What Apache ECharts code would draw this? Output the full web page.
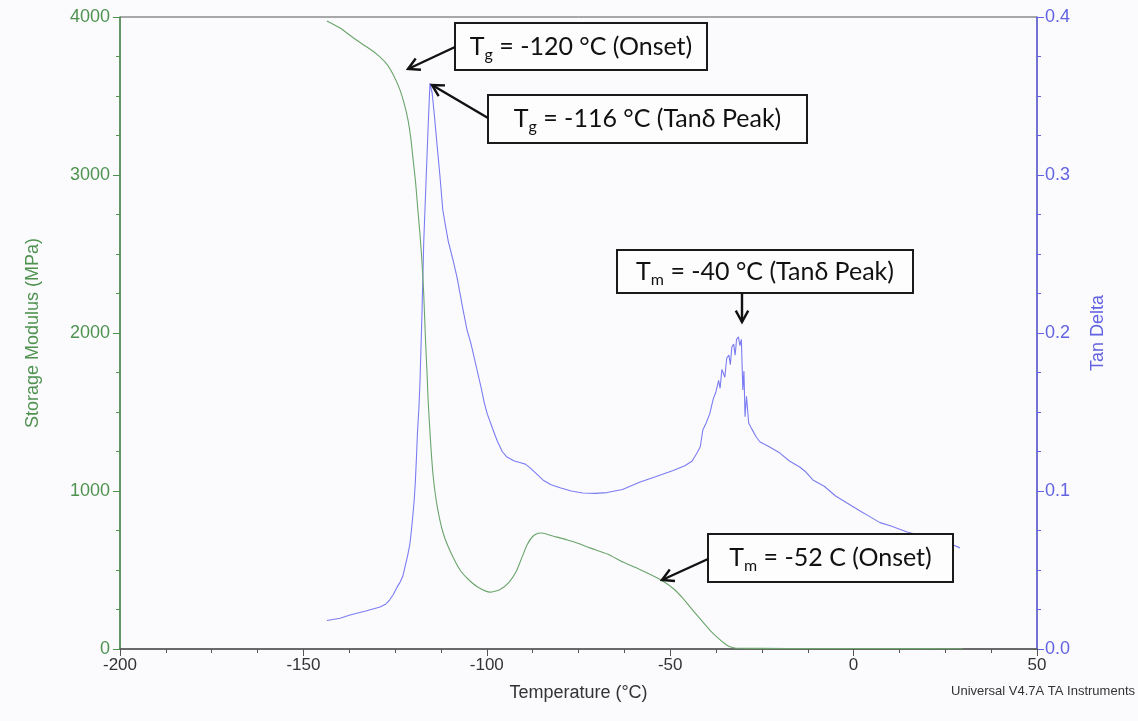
<!DOCTYPE html>
<html>
<head>
<meta charset="utf-8">
<script src="https://cdn.jsdelivr.net/npm/echarts@6/dist/echarts.min.js"></script>
<style>
  html, body { margin: 0; padding: 0; background: #fbfbfe; }
  #chart { width: 1138px; height: 721px; }
</style>
</head>
<body>
<div id="chart"></div>
<script>
// ---- Data ----
const xTicks = [-200, -150, -100, -50, 0, 50];
const modulusTicks = [0, 1000, 2000, 3000, 4000];
const tanTicks = [0.0, 0.1, 0.2, 0.3, 0.4];

const modTemp = [-143.6,-140,-136.5,-132.7,-130,-127.2,-125.3,-123.7,-122.5,-121.5,-120.7,-120.1,-119.4,-118.8,-118.2,-117.7,-117.2,-116.7,-116.3,-116.0,-115.3,-114.6,-113.5,-111.9,-110,-107.3,-105,-102.5,-99.1,-96.5,-94,-92,-90.5,-89,-87.5,-86,-85,-82,-78,-75,-71.9,-67,-62.9,-58,-52.5,-49,-46.5,-44.6,-42,-39.2,-37,-35,-33.5,-32,-25,-10,10,29.8];
const modValue = [3975,3930,3870,3810,3765,3700,3625,3540,3450,3350,3230,3100,2950,2780,2620,2460,2250,1950,1750,1576,1300,1089,900,734,620,500,440,393,360,375,420,490,575,660,712,732,734,715,690,668,640,600,550,500,437,380,320,266,195,120,70,32,12,5,4,3,3,2];

const tanTemp = [-143.6,-140,-137.3,-133,-129.1,-127.5,-126.5,-125.5,-124.5,-123.6,-122.9,-122.3,-121.6,-121,-120.6,-120.2,-119.8,-119.5,-119.2,-118.9,-118.5,-118.2,-117.7,-117.2,-116.5,-116,-115.5,-114.9,-114.3,-113.6,-112.8,-112.0,-111.2,-110.5,-109.3,-108.1,-106.5,-105.4,-104.4,-103.5,-102.5,-101.5,-100.7,-99.9,-98.5,-97.2,-95.8,-94.5,-92.5,-91,-89.5,-88.2,-86.5,-84.7,-82.5,-80,-77,-73.8,-70.5,-67.2,-63,-58.2,-54,-49.2,-46,-44,-42.7,-41.8,-41.1,-40.2,-39.2,-38.3,-37.5,-36.8,-36.4,-35.9,-35.6,-35.1,-34.6,-34.0,-33.6,-33.2,-32.7,-32.3,-31.9,-31.4,-31.0,-30.6,-30.2,-29.9,-29.6,-29.2,-28.6,-27.7,-26.5,-25.5,-23,-20.1,-17.5,-14.6,-13,-11.1,-8,-5,-1.8,2,5,7.2,10,14.6,18,21.7,25,27,29];
const tanValue = [0.018,0.0195,0.0215,0.024,0.0266,0.0285,0.031,0.0345,0.039,0.0425,0.046,0.052,0.059,0.066,0.074,0.0835,0.094,0.105,0.12,0.137,0.153,0.17,0.21,0.257,0.30,0.33,0.358,0.352,0.338,0.32,0.30,0.278,0.267,0.258,0.247,0.235,0.215,0.202,0.194,0.185,0.175,0.165,0.156,0.149,0.14,0.132,0.125,0.1215,0.119,0.118,0.117,0.1146,0.111,0.107,0.104,0.102,0.100,0.0987,0.0985,0.099,0.101,0.1057,0.109,0.113,0.116,0.119,0.124,0.128,0.1386,0.143,0.149,0.158,0.163,0.170,0.165,0.177,0.178,0.172,0.184,0.186,0.180,0.191,0.193,0.186,0.196,0.1975,0.192,0.196,0.164,0.176,0.147,0.160,0.143,0.139,0.134,0.131,0.128,0.124,0.119,0.115,0.112,0.107,0.103,0.097,0.0924,0.087,0.083,0.080,0.078,0.074,0.072,0.070,0.068,0.066,0.064];

const annotations = [
  { sub: 'g', text: ' = -120 °C (Onset)' },
  { sub: 'g', text: ' = -116 °C (Tanδ Peak)' },
  { sub: 'm', text: ' = -40 °C (Tanδ Peak)' },
  { sub: 'm', text: ' = -52 C (Onset)' }
];

// ---- Build ----
const modData = modTemp.map((t, i) => [t, modValue[i]]);
const tanData = tanTemp.map((t, i) => [t, tanValue[i]]);

const GREEN_TXT = '#4f9250';
const GREEN_LINE = '#6aa56a';
const BLUE_TXT = '#6262e2';
const BLUE_LINE = '#7c7cf2';

function arrow(x1, y1, x2, y2) {
  const a = Math.atan2(y2 - y1, x2 - x1);
  const L = 13, w = 0.5;
  const p1 = [x2 - L * Math.cos(a - w), y2 - L * Math.sin(a - w)];
  const p2 = [x2 - L * Math.cos(a + w), y2 - L * Math.sin(a + w)];
  return [
    { type: 'line', shape: { x1, y1, x2, y2 }, style: { stroke: '#111', lineWidth: 2.4 }, z: 100 },
    { type: 'polyline', shape: { points: [p1, [x2, y2], p2] }, style: { stroke: '#111', lineWidth: 2.4, fill: null }, z: 100 }
  ];
}

function box(x, y, w, h, ann) {
  return [
    { type: 'rect', shape: { x, y, width: w, height: h }, style: { fill: '#fdfdfe', stroke: '#1a1a1a', lineWidth: 2 }, z: 100 },
    {
      type: 'text', x: x + w / 2, y: y + h / 2, z: 101,
      style: {
        text: '{t|T}{s|' + ann.sub + '}{t|' + ann.text + '}',
        align: 'center', verticalAlign: 'middle',
        rich: {
          t: { fontSize: 25, fontFamily: 'Lato', fill: '#111', lineHeight: 32, verticalAlign: 'middle' },
          s: { fontSize: 16, fontFamily: 'Lato', fill: '#111', lineHeight: 32, verticalAlign: 'bottom', padding: [12, 0, 0, 0] }
        }
      }
    }
  ];
}

const graphics = [].concat(
  box(455, 23, 252, 47, annotations[0]), arrow(455, 47, 408, 69),
  box(488, 95, 319, 48, annotations[1]), arrow(488, 118, 432, 85),
  box(617, 250, 296, 43, annotations[2]), arrow(742, 293, 742, 322),
  box(708, 534, 245, 48, annotations[3]), arrow(708, 559, 662, 580),
  [{ type: 'text', right: 3, top: 685, style: { text: 'Universal V4.7A TA Instruments', font: '13px "Liberation Sans", Arial', fill: '#333' } }]
);

const chart = echarts.init(document.getElementById('chart'), null, { renderer: 'canvas' });
chart.setOption({
  backgroundColor: '#fbfbfe',
  animation: false,
  grid: { left: 120, right: 101, top: 17, bottom: 72, show: true, borderColor: '#555', borderWidth: 1, backgroundColor: 'transparent' },
  xAxis: {
    type: 'value', min: xTicks[0], max: xTicks[xTicks.length - 1], interval: 50,
    name: 'Temperature (°C)', nameLocation: 'middle', nameGap: 35,
    nameTextStyle: { fontSize: 18, color: '#333', fontFamily: 'Liberation Sans' },
    axisLine: { show: true, onZero: false, lineStyle: { color: '#555', width: 1.5 } },
    axisTick: { show: true, length: 7, lineStyle: { color: '#555' } },
    minorTick: { show: true, splitNumber: 4, length: 4, lineStyle: { color: '#555' } },
    splitLine: { show: false },
    axisLabel: { fontSize: 17, color: '#333', margin: 8, fontFamily: 'Liberation Sans', formatter: v => String(v) }
  },
  yAxis: [
    {
      type: 'value', min: modulusTicks[0], max: modulusTicks[modulusTicks.length - 1], interval: 1000, position: 'left',
      name: 'Storage Modulus (MPa)', nameLocation: 'middle', nameGap: 78,
      nameTextStyle: { fontSize: 18, color: GREEN_TXT, fontFamily: 'Liberation Sans' },
      axisLine: { show: true, onZero: false, lineStyle: { color: GREEN_TXT, width: 1.5 } },
      axisTick: { show: true, length: 7, lineStyle: { color: GREEN_TXT } },
      minorTick: { show: true, splitNumber: 4, length: 4, lineStyle: { color: GREEN_TXT } },
      splitLine: { show: false },
      axisLabel: { fontSize: 18, color: GREEN_TXT, margin: 10, fontFamily: 'Liberation Sans', formatter: v => String(v) }
    },
    {
      type: 'value', min: tanTicks[0], max: tanTicks[tanTicks.length - 1], interval: 0.1, position: 'right',
      name: 'Tan Delta', nameLocation: 'middle', nameGap: 52,
      nameTextStyle: { fontSize: 18, color: BLUE_TXT, fontFamily: 'Liberation Sans' },
      axisLine: { show: true, onZero: false, lineStyle: { color: BLUE_TXT, width: 1.5 } },
      axisTick: { show: true, length: 7, lineStyle: { color: BLUE_TXT } },
      minorTick: { show: true, splitNumber: 4, length: 4, lineStyle: { color: BLUE_TXT } },
      splitLine: { show: false },
      axisLabel: { fontSize: 18, color: BLUE_TXT, margin: 8, fontFamily: 'Liberation Sans', formatter: v => v.toFixed(1) }
    }
  ],
  series: [
    {
      name: 'Storage Modulus', type: 'line', yAxisIndex: 0, data: modData,
      showSymbol: false, smooth: 0.2, lineStyle: { color: GREEN_LINE, width: 1.1 }, z: 3
    },
    {
      name: 'Tan Delta', type: 'line', yAxisIndex: 1, data: tanData,
      showSymbol: false, smooth: false, lineStyle: { color: BLUE_LINE, width: 1.1 }, z: 2
    }
  ],
  graphic: graphics
});
</script>
</body>
</html>
